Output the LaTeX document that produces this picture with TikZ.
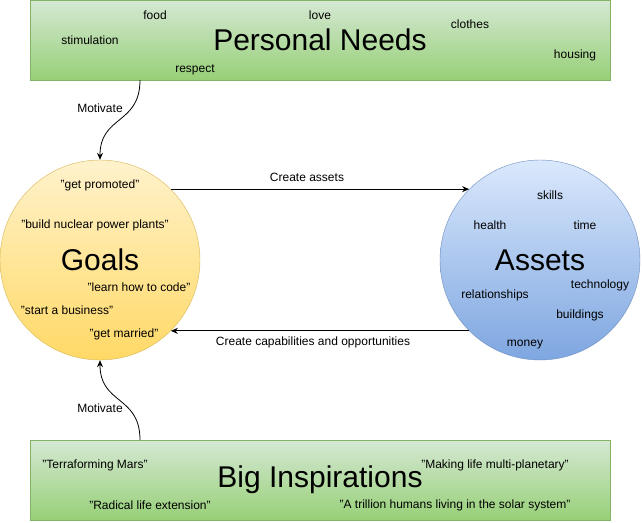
\documentclass[tikz,border=0pt]{standalone}
\usepackage{fontspec}
\setmainfont{Liberation Sans}
\usetikzlibrary{positioning,arrows.meta}
\definecolor{greenTop}{HTML}{D5E8D4}
\definecolor{greenBot}{HTML}{97D077}
\definecolor{greenLine}{HTML}{82B366}
\definecolor{yellowTop}{HTML}{FFF2CC}
\definecolor{yellowBot}{HTML}{FFD966}
\definecolor{yellowLine}{HTML}{D6B656}
\definecolor{blueTop}{HTML}{DAE8FC}
\definecolor{blueBot}{HTML}{7EA6E0}
\definecolor{blueLine}{HTML}{6C8EBF}

\begin{document}
\begin{tikzpicture}[
  x=1pt, y=-1pt,
  >={Stealth[length=7pt,width=6pt]},
  font=\fontsize{12}{14}\selectfont,
  every node/.style={inner sep=1pt},
  band/.style={draw=greenLine, top color=greenTop, bottom color=greenBot,
    minimum width=580pt, minimum height=80pt, inner sep=0pt},
  bubble/.style={circle, minimum size=200pt, inner sep=0pt},
  title/.style={font=\fontsize{30}{34}\selectfont},
  link/.style={->, line width=0.8pt}
]
  \useasboundingbox (0,0) rectangle (642,522);
  % boxes and circles
  \node[band] (needs) at (320,40) {};
  \node[band] (inspire) at (320,480) {};
  \node[bubble, draw=yellowLine, top color=yellowTop, bottom color=yellowBot]
    (goals) at (100,260) {};
  \node[bubble, draw=blueLine, top color=blueTop, bottom color=blueBot]
    (assets) at (540,260) {};
  % titles
  \node[title] (needsT) at (320,40) {Personal Needs};
  \node[title] (goalsT) at (100,260) {Goals};
  \node[title] (assetsT) at (540,260) {Assets};
  \node[title] (inspireT) at (320,480) {Big Inspirations};
  % words in each shape
  \foreach \x/\y/\txt/\nm in {155/15/food/n1, 320/15/love/n2, 470/24/clothes/n3,
      90/40/stimulation/n4, 575/55/housing/n5, 195/70/respect/n6}
    \node (\nm) at (\x,\y) {\txt};
  \foreach \x/\y/\txt/\nm in {100/185/"get promoted"/g1,
      95/225/"build nuclear power plants"/g2, 139/287/"learn how to code"/g3,
      67/310/"start a business"/g4, 124/334/"get married"/g5}
    \node (\nm) at (\x,\y) {\txt};
  \foreach \x/\y/\txt/\nm in {550/195/skills/a1, 490/225/health/a2,
      585/225/time/a3, 600/285/technology/a4, 495/295/relationships/a5,
      580/315/buildings/a6, 525/345/money/a7}
    \node (\nm) at (\x,\y) {\txt};
  \foreach \x/\y/\txt/\nm in {95/465/"Terraforming Mars"/b1,
      495/465/"Making life multi-planetary"/b2,
      150/505/"Radical life extension"/b3,
      455/505/"A trillion humans living in the solar system"/b4}
    \node (\nm) at (\x,\y) {\txt};
  % connectors
  \coordinate (needsOut) at (140,80);
  \coordinate (inspireOut) at (140,440);
  \draw[link] (needsOut) .. controls (140,125) and (100,115) .. (goals.north);
  \node (motiv1) at (100,108) {Motivate};
  \draw[link] (inspireOut) .. controls (140,395) and (100,405) .. (goals.south);
  \node (motiv2) at (100,408) {Motivate};
  \draw[link] (goals.45) -- node[above=6pt, xshift=-13pt] (createA)
    {Create assets} (assets.135);
  \draw[link] (assets.-135) -- node[below=5pt, xshift=-7pt] (createC)
    {Create capabilities and opportunities} (goals.-45);
\end{tikzpicture}
\end{document}
